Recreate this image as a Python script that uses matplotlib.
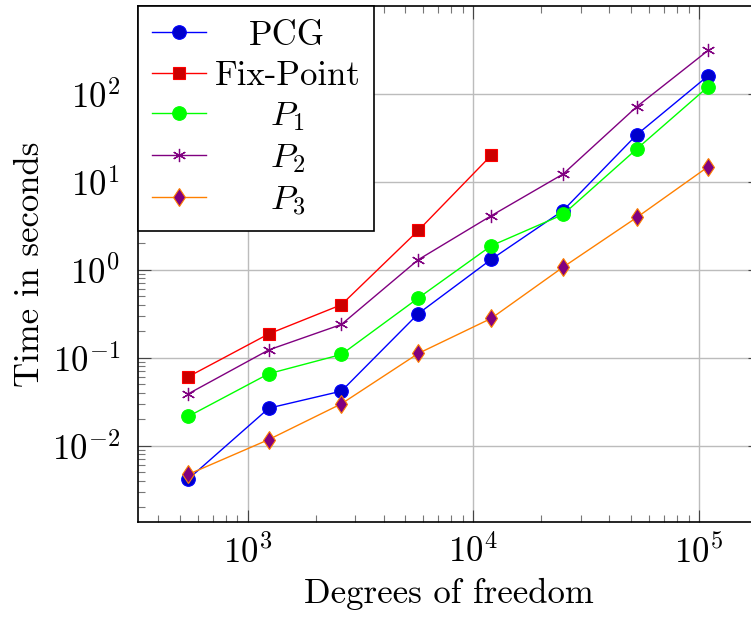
import matplotlib
matplotlib.use('Agg')
import matplotlib.pyplot as plt
from matplotlib.ticker import LogLocator, NullFormatter

plt.rcParams['font.family'] = 'serif'
plt.rcParams['font.serif'] = ['cmr10']
plt.rcParams['mathtext.fontset'] = 'cm'
plt.rcParams['axes.formatter.use_mathtext'] = True

# ---------- data ----------
dofs = [545, 1240, 2600, 5700, 12000, 25000, 53000, 110000]
pcg = [0.0042, 0.0268, 0.0418, 0.317, 1.31, 4.70, 34.1, 160]
fix_point = [0.061, 0.187, 0.40, 2.79, 19.9]
p1 = [0.0216, 0.066, 0.109, 0.477, 1.87, 4.24, 23.5, 120]
p2 = [0.039, 0.123, 0.239, 1.30, 4.1, 12.2, 71, 310]
p3 = [0.00474, 0.0118, 0.030, 0.112, 0.28, 1.07, 3.92, 14.8]

labels = ['PCG', 'Fix-Point', r'$P_1$', r'$P_2$', r'$P_3$']

FS = 25

# ---------- plot ----------
fig = plt.figure(figsize=(7.51, 6.17), dpi=100)
# axes run past the right edge, the reference is cropped there
ax = fig.add_axes([138 / 751, 95 / 617, 622 / 751, 516 / 617])

lw = 1.0
ax.plot(dofs, pcg, color='#0000ff', lw=lw, marker='o', ms=9.8,
        mfc='#0000cc', mec='#0000ff', mew=0.8, label=labels[0])
ax.plot(dofs[:len(fix_point)], fix_point, color='#ff0000', lw=lw, marker='s',
        ms=9.3, mfc='#cc0000', mec='#ff0000', mew=0.8, label=labels[1])
ax.plot(dofs, p1, color='#00ff00', lw=lw, marker='o', ms=9.8,
        mfc='#00ff00', mec='#00ff00', mew=0.8, label=labels[2])
ax.plot(dofs, p2, color='#800080', lw=lw, marker=(6, 2, 0), ms=9.5,
        mec='#800080', mew=0.9, label=labels[3])
ax.plot(dofs, p3, color='#ff8000', lw=lw, marker='d', ms=9.5,
        mfc='#800080', mec='#ff8000', mew=0.8, label=labels[4])

ax.set_xscale('log')
ax.set_yscale('log')
ax.set_xlim(326, 186600)
ax.set_ylim(10 ** -2.865, 10 ** 2.995)

ax.xaxis.set_major_locator(LogLocator(base=10, numticks=10))
ax.yaxis.set_major_locator(LogLocator(base=10, numticks=10))
ax.xaxis.set_minor_locator(LogLocator(base=10, subs=range(2, 10), numticks=20))
ax.yaxis.set_minor_locator(LogLocator(base=10, subs=range(2, 10), numticks=20))
ax.xaxis.set_minor_formatter(NullFormatter())
ax.yaxis.set_minor_formatter(NullFormatter())

ax.grid(True, which='major', color='#bcbcbc', lw=1.0)
ax.set_axisbelow(True)
ax.tick_params(which='both', direction='in', top=True, right=True)
ax.tick_params(which='major', length=9, width=0.8, color='#444444',
               labelsize=FS)
ax.tick_params(axis='x', which='major', pad=9)
ax.tick_params(axis='y', which='major', pad=13)
ax.tick_params(which='minor', length=5, width=0.8, color='#777777')
for s in ax.spines.values():
    s.set_linewidth(1.2)

ax.set_xlabel('Degrees of freedom', fontsize=FS, labelpad=6)
ax.set_ylabel('Time in seconds', fontsize=FS, labelpad=4)

leg = ax.legend(loc='upper left', fontsize=FS, fancybox=False, framealpha=1,
                edgecolor='black', borderaxespad=0, handlelength=1.55,
                labelspacing=0.25, borderpad=0.4, handletextpad=0.25)
leg.get_frame().set_linewidth(1.2)

# centre legend entries like pgfplots does
fig.canvas.draw()
r = fig.canvas.get_renderer()
widths = [t.get_window_extent(r).width for t in leg.get_texts()]
wmax = max(widths)
for t, w in zip(leg.get_texts(), widths):
    t.set_x((wmax - w) / 2)

plt.savefig('out.png', dpi=100)
